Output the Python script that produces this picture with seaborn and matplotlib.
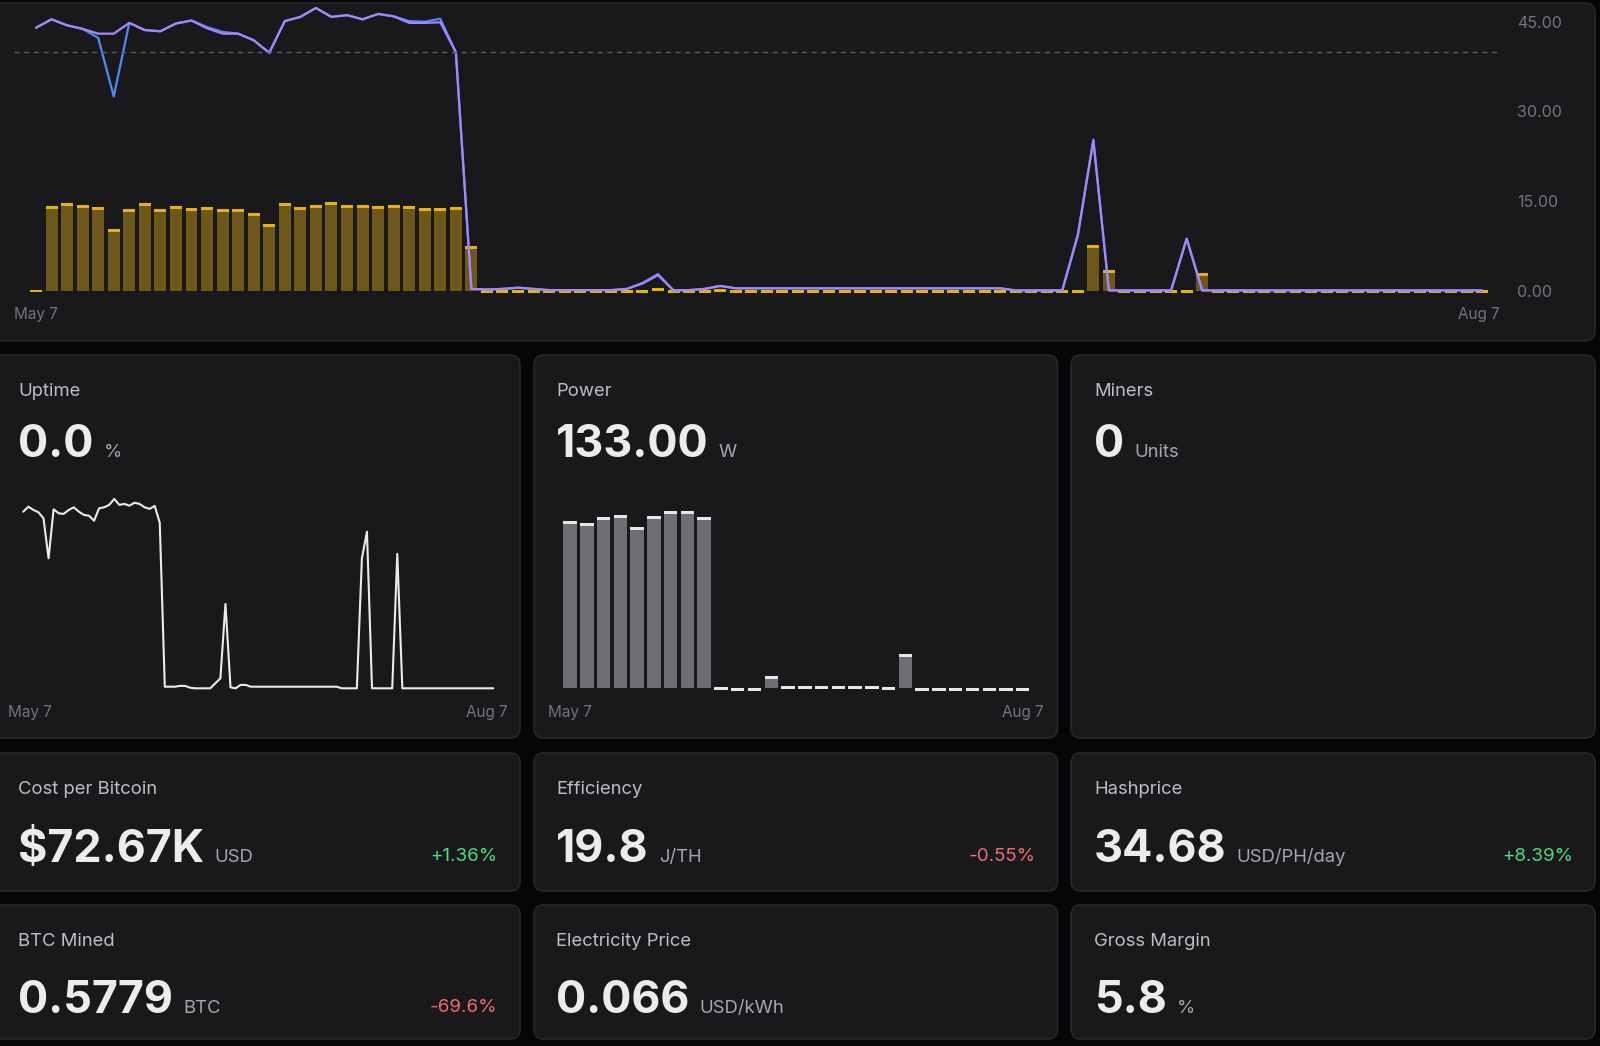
import matplotlib
matplotlib.use("Agg")
import numpy as np
import pandas as pd
import matplotlib.pyplot as plt
from matplotlib.patches import FancyBboxPatch
import seaborn as sns

W, H = 1600, 1046

# ---- top chart: one value per day, May 7 -> Aug 7 ----
bar_vals = [0.2, 14.1, 14.6, 14.3, 14.0, 10.3, 13.6, 14.7, 13.7, 14.1,
            13.9, 14.0, 13.6, 13.6, 13.0, 11.1, 14.6, 14.0, 14.4, 14.8,
            14.4, 14.4, 14.2, 14.4, 14.1, 13.9, 13.9, 14.0, 7.4, 0.15,
            0.15, 0.15, 0.15, 0.15, 0.15, 0.15, 0.15, 0.15, 0.15, 0.15,
            0.4, 0.15, 0.15, 0.15, 0.3, 0.15, 0.15, 0.15, 0.15, 0.15,
            0.15, 0.15, 0.15, 0.15, 0.15, 0.15, 0.15, 0.15, 0.15, 0.15,
            0.15, 0.15, 0.15, 0.15, 0.15, 0.15, 0.15, 0.15, 7.7, 3.5,
            0.15, 0.15, 0.15, 0.15, 0.15, 2.9, 0.15, 0.15, 0.15, 0.15,
            0.15, 0.15, 0.15, 0.15, 0.15, 0.15, 0.15, 0.15, 0.15, 0.15,
            0.15, 0.15, 0.15, 0.15]
purple_vals = [44.0, 45.4, 44.4, 43.8, 43.0, 43.0, 44.8, 43.6, 43.4, 44.7,
               45.2, 43.9, 43.0, 43.0, 41.9, 39.8, 45.1, 45.8, 47.3, 45.8,
               46.1, 45.4, 46.3, 45.9, 44.8, 44.8, 44.9, 39.9, 0.3, 0.2,
               0.3, 0.5, 0.3, 0.1, 0.1, 0.1, 0.1, 0.1, 0.3, 1.2,
               2.6, 0.05, 0.1, 0.3, 0.8, 0.4, 0.4, 0.4, 0.4, 0.4,
               0.4, 0.4, 0.4, 0.4, 0.4, 0.4, 0.4, 0.4, 0.4, 0.4,
               0.4, 0.4, 0.4, 0.05, 0.05, 0.05, 0.05, 9.2, 25.1, 0.05,
               0.05, 0.05, 0.05, 0.05, 8.7, 0.05, 0.05, 0.05, 0.05, 0.05,
               0.05, 0.05, 0.05, 0.05, 0.05, 0.05, 0.05, 0.05, 0.05, 0.05,
               0.05, 0.05, 0.05, 0.05]
blue_vals = [44.0, 45.4, 44.4, 43.8, 42.3, 32.5, 44.8, 43.6, 43.4, 44.7,
             45.2, 44.1, 43.3, 43.0, 41.9, 39.8, 45.1, 45.8, 47.3, 45.8,
             46.1, 45.4, 46.3, 45.9, 45.1, 45.0, 45.5, 39.9, 0.3, 0.2,
             0.3, 0.5, 0.3, 0.1, 0.1, 0.1, 0.1, 0.1, 0.3, 1.3,
             2.8, 0.05, 0.1, 0.3, 0.8, 0.4, 0.4, 0.4, 0.4, 0.4,
             0.4, 0.4, 0.4, 0.4, 0.4, 0.4, 0.4, 0.4, 0.4, 0.4,
             0.4, 0.4, 0.4, 0.05, 0.05, 0.05, 0.05, 9.4, 25.3, 0.05,
             0.05, 0.05, 0.05, 0.05, 8.7, 0.05, 0.05, 0.05, 0.05, 0.05,
             0.05, 0.05, 0.05, 0.05, 0.05, 0.05, 0.05, 0.05, 0.05, 0.05,
             0.05, 0.05, 0.05, 0.05]
target_level = 40.0
top_ticks = [0, 15, 30, 45]
date_start, date_end = "May 7", "Aug 7"

# ---- uptime sparkline (%) ----
uptime_vals = [88.3, 90.8, 89.2, 88.0, 85.0, 65.0, 89.5, 87.5, 87.2, 89.2,
               90.5, 88.3, 86.7, 86.3, 83.8, 90.0, 90.5, 91.7, 94.7, 91.7,
               92.2, 91.3, 92.8, 92.2, 90.5, 89.7, 91.2, 82.8, 0.8, 0.8,
               0.8, 1.2, 1.2, 0.3, 0.0, 0.0, 0.0, 0.0, 2.5, 5.0,
               42.2, 0.5, 0.0, 1.7, 1.7, 0.8, 0.8, 0.8, 0.8, 0.8,
               0.8, 0.8, 0.8, 0.8, 0.8, 0.8, 0.8, 0.8, 0.8, 0.8,
               0.8, 0.8, 0.8, 0.0, 0.0, 0.0, 0.0, 65.0, 78.3, 0.0,
               0.0, 0.0, 0.0, 0.0, 67.2, 0.0, 0.0, 0.0, 0.0, 0.0,
               0.0, 0.0, 0.0, 0.0, 0.0, 0.0, 0.0, 0.0, 0.0, 0.0,
               0.0, 0.0, 0.0, 0.0]

# ---- power bars (kW) ----
power_vals = [167, 165, 171, 173, 161, 172, 177, 177, 171, 1.0,
              0.5, 0.5, 12, 2, 2.5, 2.5, 2.5, 2.5, 2.5, 1.0,
              34, 0.5, 0.5, 0.5, 0.5, 0.5, 0.5, 0.5]

# ---- stat cards ----
card_labels = ["Uptime", "Power", "Miners",
               "Cost per Bitcoin", "Efficiency", "Hashprice",
               "BTC Mined", "Electricity Price", "Gross Margin"]
card_values = ["0.0", "133.00", "0", "$72.67K", "19.8", "34.68",
               "0.5779", "0.066", "5.8"]
card_units = ["%", "W", "Units", "USD", "J/TH", "USD/PH/day",
              "BTC", "USD/kWh", "%"]
card_changes = ["", "", "", "+1.36%", "-0.55%", "+8.39%", "-69.6%", "", ""]

BG = "#060608"
CARD = "#19191c"
EDGE = "#28282c"
MUTED = "#74747c"
LABEL = "#bdbdc3"
UNIT = "#a6a6ae"
VALUE = "#ececef"
GREEN = "#4ade80"
RED = "#f26d6d"

sns.set_theme(style="dark")
plt.rcParams["font.family"] = ["Inter", "DejaVu Sans"]

fig = plt.figure(figsize=(W / 100, H / 100), dpi=100, facecolor=BG)
bg = fig.add_axes([0, 0, 1, 1])
bg.set_xlim(0, W)
bg.set_ylim(H, 0)
bg.axis("off")


def card(x0, y0, x1, y1):
    bg.add_patch(FancyBboxPatch((x0, y0), x1 - x0, y1 - y0,
                                boxstyle="round,pad=0,rounding_size=10",
                                fc=CARD, ec=EDGE, lw=1.2))


def px_axes(x0, y0, x1, y1):
    ax = fig.add_axes([x0 / W, 1 - y1 / H, (x1 - x0) / W, (y1 - y0) / H])
    ax.set_facecolor("none")
    for s in ax.spines.values():
        s.set_visible(False)
    ax.grid(False)
    return ax


def capped_bars(ax, vals, body, cap_color, cap_h, width):
    df = pd.DataFrame({"i": np.arange(len(vals)), "v": vals})
    sns.barplot(data=df, x="i", y="v", ax=ax, color=body, saturation=1,
                width=width, errorbar=None, linewidth=0)
    v = np.asarray(vals, dtype=float)
    ax.bar(df["i"], cap_h, bottom=v - cap_h, width=width, color=cap_color,
           linewidth=0)


# card frames
card(-12, 3, 1595, 340.7)
col_x0 = [-12, 534, 1071]
col_x1 = [520, 1057.5, 1595]
row_y0 = [355, 753, 905]
row_y1 = [738, 891, 1039]
for r in range(3):
    for c in range(3):
        card(col_x0[c], row_y0[r], col_x1[c], row_y1[r])

# ---- top chart ----
ax = px_axes(14, 3, 1502, 300)
capped_bars(ax, bar_vals, "#6e5819", "#e8b10c", 0.5, 0.77)
n = len(bar_vals)
sns.lineplot(x=np.arange(n), y=blue_vals, ax=ax, color="#4b8df5", lw=1.6)
sns.lineplot(x=np.arange(n), y=purple_vals, ax=ax, color="#a985fa", lw=1.6)
ax.axhline(target_level, color="#606068", lw=1.0, ls=(0, (3.5, 3.5)))
ax.set_xlim(-1.415, 94.28)
ax.set_ylim(-1.556, 48.13)
ax.set_xticks([])
ax.set_xlabel("")
ax.set_ylabel("")
ax.yaxis.tick_right()
ax.set_yticks(top_ticks)
ax.set_yticklabels([f"{t:.2f}" for t in top_ticks])
ax.tick_params(axis="y", length=0, pad=10.8, labelsize=11.5, labelcolor=MUTED)
bg.text(14, 314, date_start, color=MUTED, fontsize=11, va="center", ha="left")
bg.text(1500, 314, date_end, color=MUTED, fontsize=11, va="center", ha="right")

# ---- uptime sparkline ----
ax = px_axes(20, 490, 497, 695)
sns.lineplot(x=np.arange(len(uptime_vals)), y=uptime_vals, ax=ax,
             color="#ebebee", lw=1.5)
ax.set_xlim(-0.65, 93.73)
ax.set_ylim(-3.35, 99.15)
ax.set_xticks([])
ax.set_yticks([])
ax.set_xlabel("")
ax.set_ylabel("")
bg.text(8, 712, date_start, color=MUTED, fontsize=11, va="center", ha="left")
bg.text(508, 712, date_end, color=MUTED, fontsize=11, va="center", ha="right")

# ---- power bars ----
ax = px_axes(560, 500, 1033, 695)
capped_bars(ax, power_vals, "#6e6e73", "#e6e6e9", 2.7, 0.8)
ax.set_xlim(-0.6, 27.61)
ax.set_ylim(-6.7, 188.3)
ax.set_xticks([])
ax.set_yticks([])
ax.set_xlabel("")
ax.set_ylabel("")
bg.text(548, 712, date_start, color=MUTED, fontsize=11, va="center", ha="left")
bg.text(1044, 712, date_end, color=MUTED, fontsize=11, va="center", ha="right")

# ---- card texts ----
text_x = [18, 556, 1094]
pct_x = [497, 1036, 1573]
label_y = [391, 789, 941]
value_y = [457, 862, 1013]

value_texts = []
for k, lab in enumerate(card_labels):
    r, c = divmod(k, 3)
    bg.text(text_x[c], label_y[r], lab, color=LABEL, fontsize=13.3,
            va="center", ha="left")
    t = bg.text(text_x[c], value_y[r], card_values[k], color=VALUE,
                fontsize=32.3, fontweight="bold", va="baseline", ha="left")
    value_texts.append(t)
    if card_changes[k]:
        col = GREEN if card_changes[k].startswith("+") else RED
        bg.text(pct_x[c], value_y[r] - 1, card_changes[k], color=col,
                fontsize=13.5, va="baseline", ha="right")

fig.canvas.draw()
renderer = fig.canvas.get_renderer()
for k, t in enumerate(value_texts):
    r, c = divmod(k, 3)
    bb = t.get_window_extent(renderer)
    bg.text(bb.x1 + 10, value_y[r], card_units[k], color=UNIT, fontsize=13.3,
            va="baseline", ha="left")

fig.savefig("out.png", dpi=100, facecolor=BG)
